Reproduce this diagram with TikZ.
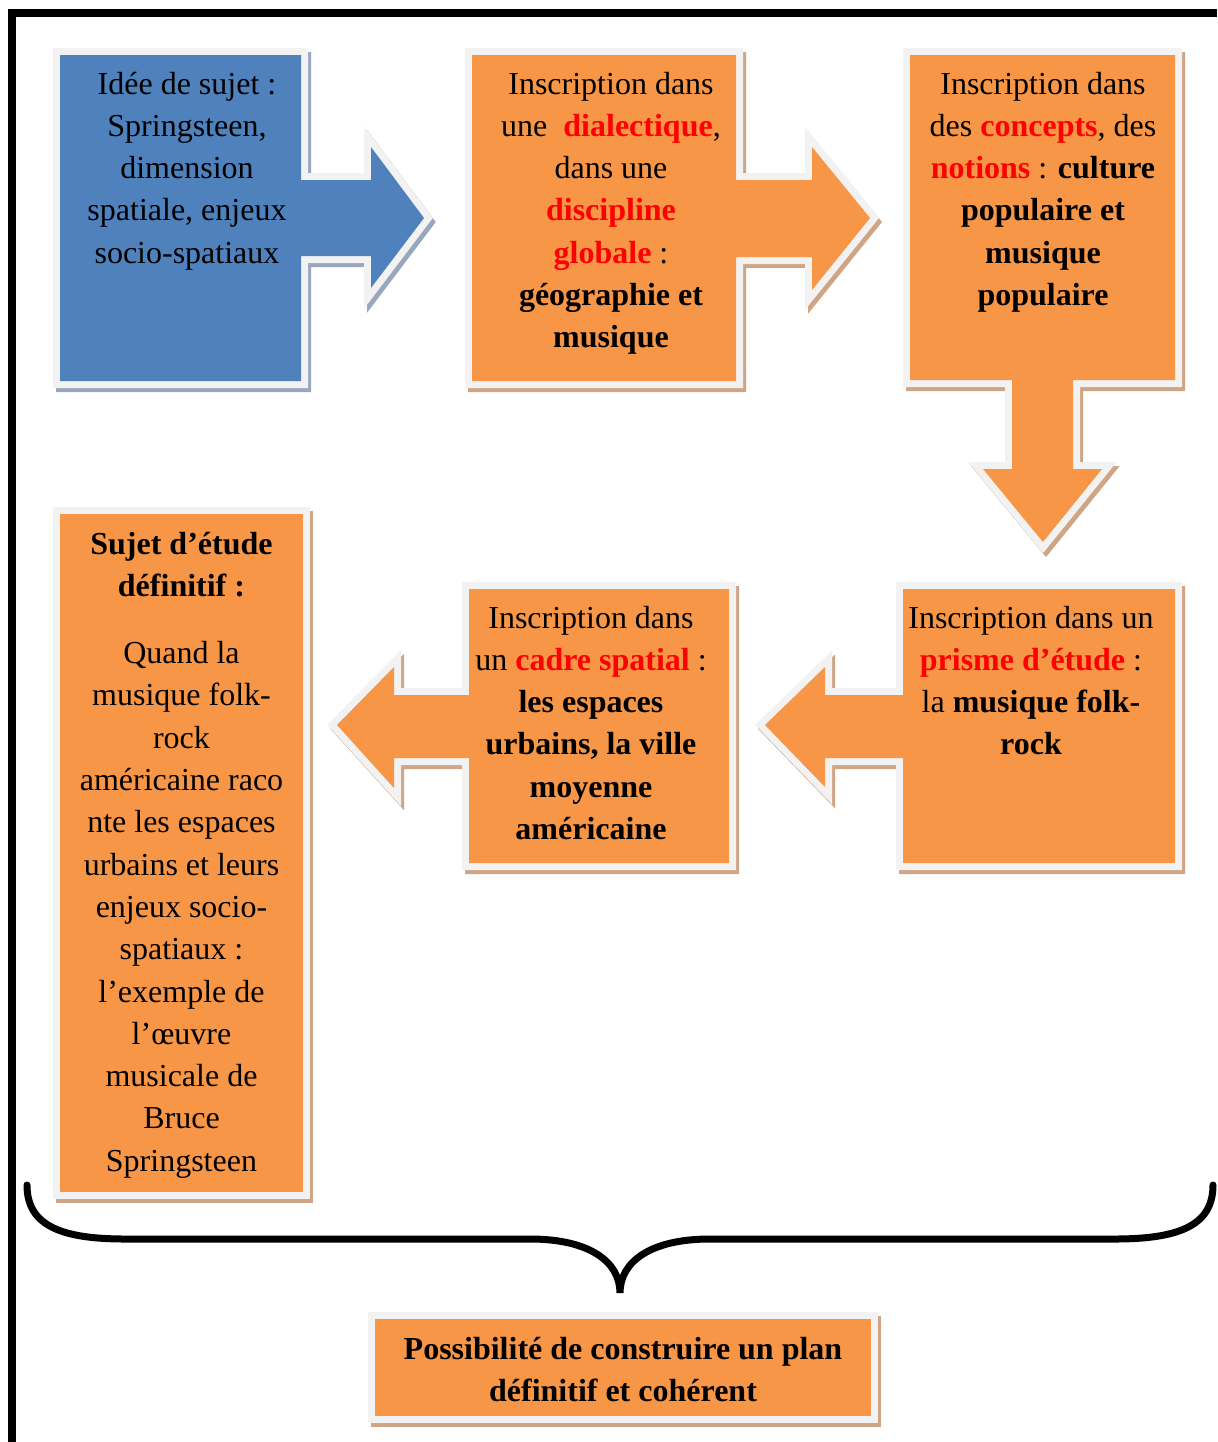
\documentclass[tikz,border=0pt]{standalone}
\usepackage{fontspec}
\setmainfont{Liberation Serif}
\definecolor{borange}{HTML}{F79646}
\definecolor{bblue}{HTML}{4F81BD}
\definecolor{bedge}{HTML}{F2F2F2}
\definecolor{oshadow}{HTML}{D0A585}
\definecolor{bshadow}{HTML}{98A6BF}
\definecolor{hired}{HTML}{FF0000}
\newcommand{\calloutshape}[3]{%
  \begin{scope}[shift={(3,4)}]
    \filldraw[draw=#3, fill=#3, line width=7pt, line join=miter] #1;
  \end{scope}
  \draw[draw=bedge, line width=7pt, line join=miter] #1;
  \fill[#2] #1;
}
\newcommand{\hl}[1]{\textcolor{hired}{\textbf{#1}}}
\tikzset{
  txt/.style={anchor=north, inner sep=0pt, align=center, text=black,
    font=\fontsize{16}{21.15}\selectfont},
  bracestyle/.style={line width=3.5pt, line cap=round, draw=black},
  framestyle/.style={line width=4pt, line join=miter, draw=black}
}
\begin{document}
\begin{tikzpicture}[x=0.5pt, y=-0.5pt]
\useasboundingbox (0,0) rectangle (1217,1442);
% frame
\draw[framestyle] (12,1442) -- (12,13) -- (1217,13);

% shape 1 (blue, arrow right)
\calloutshape{(60,55) -- (301,55) -- (301,180) -- (371,180) -- (371,147) -- (424,218) -- (371,288) -- (371,256) -- (301,256) -- (301,381) -- (60,381) -- cycle}{bblue}{bshadow}
% shape 2 (orange, arrow right)
\calloutshape{(472,55) -- (736,55) -- (736,180) -- (812,180) -- (812,147) -- (870,218) -- (812,290) -- (812,257) -- (736,257) -- (736,381) -- (472,381) -- cycle}{borange}{oshadow}
% shape 3 (orange, arrow down)
\calloutshape{(910,55) -- (1175,55) -- (1175,380) -- (1073,380) -- (1073,469) -- (1102,469) -- (1043,542) -- (983,469) -- (1012,469) -- (1012,380) -- (910,380) -- cycle}{borange}{oshadow}
% shape 4 (orange, arrow left)
\calloutshape{(903,589) -- (1175,589) -- (1175,863) -- (903,863) -- (903,758) -- (825,758) -- (825,787) -- (765,725) -- (825,667) -- (825,695) -- (903,695) -- cycle}{borange}{oshadow}
% shape 5 (orange, arrow left)
\calloutshape{(469,589) -- (729,589) -- (729,863) -- (469,863) -- (469,758) -- (394,758) -- (394,788) -- (337,725) -- (394,667) -- (394,695) -- (469,695) -- cycle}{borange}{oshadow}
% shape 6 (tall box)
\calloutshape{(60,514) -- (303,514) -- (303,1192) -- (60,1192) -- cycle}{borange}{oshadow}

% brace
\coordinate (bl) at (27,1185);
\coordinate (btip) at (620,1293);
\coordinate (br) at (1213,1185);
\draw[bracestyle] (bl) .. controls (27,1225) and (60,1239) .. (125,1239) -- (530,1239) .. controls (590,1239) and (620,1262) .. (btip) .. controls (620,1262) and (650,1239) .. (710,1239) -- (1115,1239) .. controls (1180,1239) and (1213,1225) .. (br);

% shape 7 (bottom box)
\calloutshape{(375,1319) -- (871,1319) -- (871,1416) -- (375,1416) -- cycle}{borange}{oshadow}

% texts
\node[txt] (t1) at (187,64) {\strut Idée de sujet :\\ Springsteen,\\ dimension\\ spatiale, enjeux\\ socio-spatiaux};
\node[txt] (t2) at (611,64) {\strut Inscription dans\\ une \ \hl{dialectique},\\ dans une\\ \hl{discipline}\\ \hl{globale} :\\ \textbf{géographie et}\\ \textbf{musique}};
\node[txt] (t3) at (1043,64) {\strut Inscription dans\\ des \hl{concepts}, des\\ \hl{notions} : \textbf{culture}\\ \textbf{populaire et}\\ \textbf{musique}\\ \textbf{populaire}};
\node[txt] (t4) at (1031,598) {\strut Inscription dans un\\ \hl{prisme d’étude} :\\ la \textbf{musique folk-}\\ \textbf{rock}};
\node[txt] (t5) at (591,598) {\strut Inscription dans\\ un \hl{cadre spatial} :\\ \textbf{les espaces}\\ \textbf{urbains, la ville}\\ \textbf{moyenne}\\ \textbf{américaine}};
\node[txt] (t6) at (181.5,524) {\strut\textbf{Sujet d’étude}\\ \textbf{définitif :}\\[12.5pt] Quand la\\ musique folk-\\ rock\\ américaine raco\\ nte les espaces\\ urbains et leurs\\ enjeux socio-\\ spatiaux :\\ l’exemple de\\ l’œuvre\\ musicale de\\ Bruce\\ Springsteen};
\node[txt] (t7) at (623,1329) {\strut\textbf{Possibilité de construire un plan}\\ \textbf{définitif et cohérent}};
\end{tikzpicture}
\end{document}
